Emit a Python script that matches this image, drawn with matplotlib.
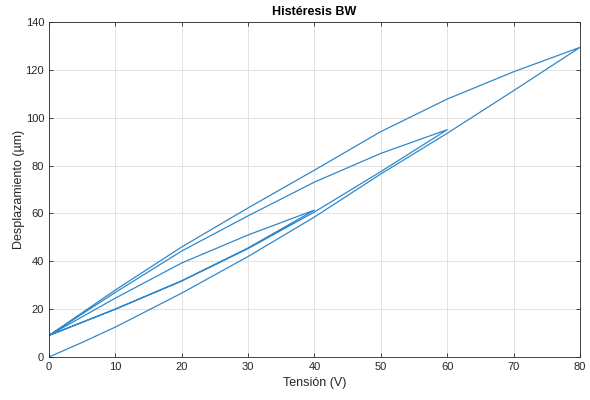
import matplotlib
matplotlib.use('Agg')
import matplotlib.pyplot as plt

plt.rcParams['font.family'] = ['Liberation Sans', 'DejaVu Sans']

# Voltage steps of each branch of the hysteresis sweep
v_up_full = [0, 5, 10, 20, 30, 40, 50, 60, 70, 80]
d_up_full = [0, 6.1, 12.5, 26.7, 42, 58.5, 76.5, 93.5, 111.3, 129.4]

v_down_80 = [80, 70, 60, 50, 40, 30, 20, 10, 0]
d_down_80 = [129.4, 119.2, 107.8, 94.2, 78.1, 62.3, 46, 28, 9]

v_up_60 = [0, 10, 20, 30, 40, 50, 60]
d_up_60 = [9, 20, 31.8, 45.3, 60.6, 77.5, 95]

v_down_60 = [60, 50, 40, 30, 20, 10, 0]
d_down_60 = [95, 85.1, 73.1, 59, 44.3, 27, 9]

v_up_40 = [0, 10, 20, 30, 40]
d_up_40 = [9, 20, 31.8, 45.6, 61.4]

v_down_40 = [40, 30, 20, 10, 0]
d_down_40 = [61.4, 51, 39.3, 24.6, 9]

volts = v_up_full + v_down_80 + v_up_60 + v_down_60 + v_up_40 + v_down_40
disp = d_up_full + d_down_80 + d_up_60 + d_down_60 + d_up_40 + d_down_40

fig = plt.figure(figsize=(5.9, 4.0), dpi=100)
ax = fig.add_axes([0.083, 0.1075, 0.9, 0.8375])

ax.plot(volts, disp, color='#3088cb', linewidth=0.9)

ax.set_xlim(0, 80)
ax.set_ylim(0, 140)
ax.set_xticks(range(0, 81, 10))
ax.set_yticks(range(0, 141, 20))
ax.grid(True, color='#e3e3e3', linewidth=0.7)
ax.set_axisbelow(True)
ax.tick_params(direction='in', top=True, right=True, length=3,
               labelsize=8, colors='#262626', width=0.6)
for s in ax.spines.values():
    s.set_color('#262626')
    s.set_linewidth(0.6)

ax.set_title('Histéresis BW', fontsize=9, fontweight='bold', pad=5)
ax.set_xlabel('Tensión (V)', fontsize=9, color='#262626')
ax.set_ylabel('Desplazamiento (µm)', fontsize=9, color='#262626')
ax.yaxis.set_label_coords(-0.046, 0.5)

fig.savefig('out.png', dpi=100)
